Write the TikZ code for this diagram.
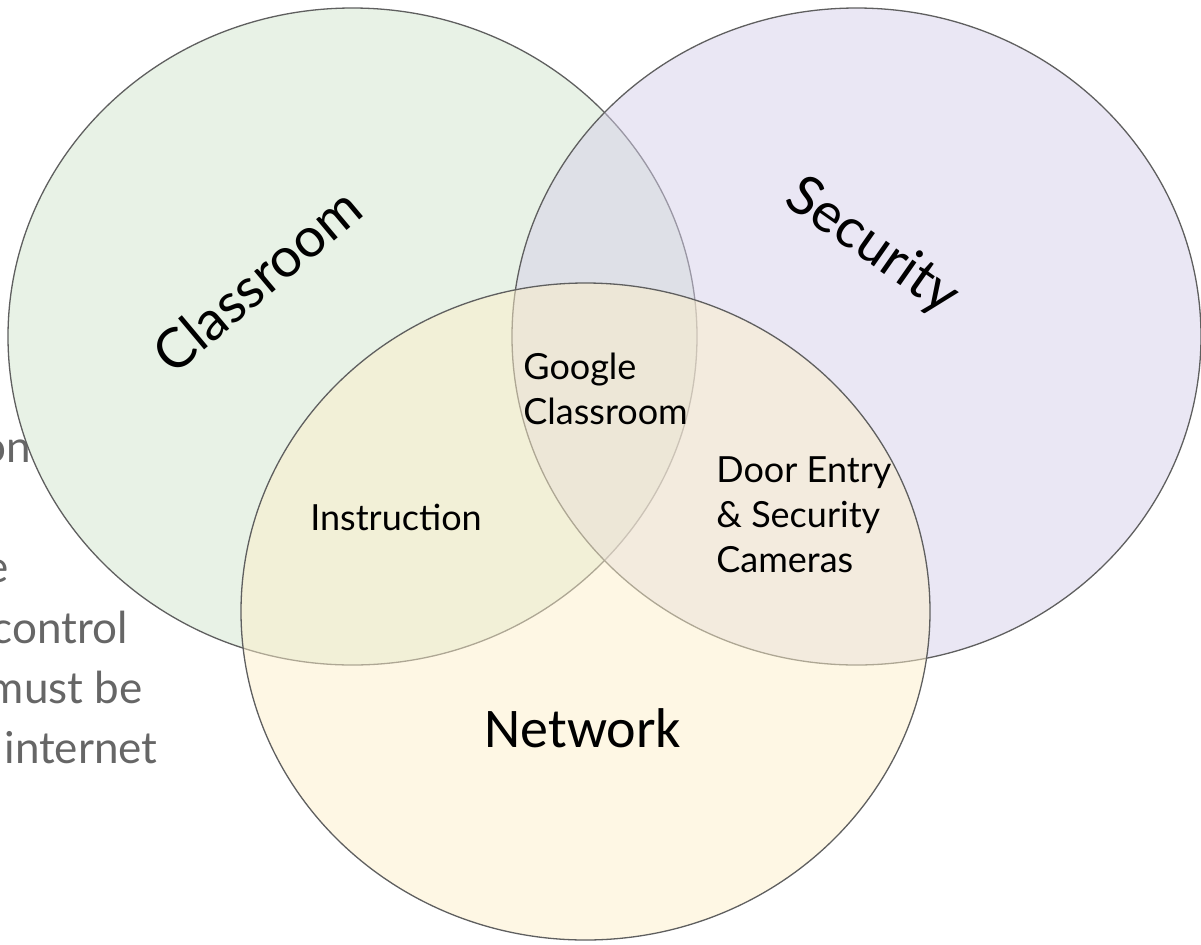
\documentclass[tikz,border=0pt]{standalone}
\usepackage{fontspec}
\setmainfont{Lato}
\newfontfamily\netfont{Carlito}
\usepackage{xcolor}
\definecolor{CLASSROOMCOLOR}{RGB}{232,242,230}
\definecolor{SECURITYCOLOR}{RGB}{213,207,233}
\definecolor{NETWORKCOLOR}{RGB}{253,239,201}
\definecolor{LINECOLOR}{RGB}{95,95,95}
\definecolor{NOTECOLOR}{RGB}{102,102,102}
\usepackage{tikz}
\usetikzlibrary{shapes,positioning}
\tikzset{
  set-style/.style = {
    ellipse, draw=LINECOLOR, line width=0.65pt,
    fill=#1, fill opacity=0.5,
    minimum width=344.5pt,
    minimum height=328.5pt,
    inner sep=0pt, outer sep=0pt
  },
  classroom-style/.style = {
    set-style=CLASSROOMCOLOR, fill opacity=1
  },
  security-style/.style = {
    set-style=SECURITYCOLOR
  },
  network-style/.style = {
    set-style=NETWORKCOLOR
  },
  set-label/.style = {
    inner sep=0pt, font=\fontsize{27.5}{33}\selectfont
  },
  area-label/.style = {
    inner sep=0pt, align=left, font=\fontsize{18}{22.5}\selectfont
  },
  note-style/.style = {
    anchor=base east, inner sep=0pt, text=NOTECOLOR,
    font=\fontsize{22}{30}\selectfont
  }
}

\begin{document}
\begin{tikzpicture}[x=0.5pt,y=-0.5pt]
  \clip (0,0) rectangle (1201,944);

  % notes lying under the sets
  \node[note-style] (note-a) at (31,462) {on};
  \node[note-style] (note-b) at (9,582) {e};
  \node[note-style] (note-c) at (128,643) {control};
  \node[note-style] (note-d) at (143,703) {must be};
  \node[note-style] (note-e) at (158,763) {internet};

  % the three sets
  \node[classroom-style] (classroom) at (352.5,336.5) {};
  \node[security-style] (security) at (856.5,336.5) {};
  \node[network-style] (network) at (585.5,611.5) {};

  \node[set-label, rotate=40] (classroom-name) at (257,280) {Classroom};
  \node[set-label, rotate=-35] (security-name) at (872,247) {Security};
  \node[set-label, font=\fontsize{28}{33}\netfont] (network-name) at (583,728) {Network};

  % overlaps
  \node[area-label, anchor=west] (google) at (523,388.5) {Google\\Classroom};
  \node[area-label] (instruction) at (396,517) {Instruction};
  \node[area-label, anchor=west] (cameras) at (716,515) {Door Entry\\\& Security\\Cameras};
\end{tikzpicture}
\end{document}
